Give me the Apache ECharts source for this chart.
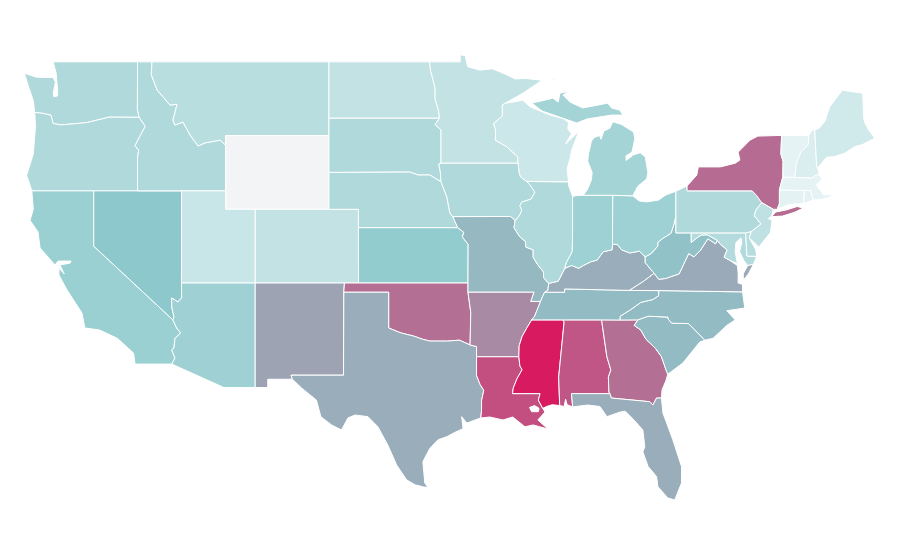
<!DOCTYPE html>
<html>
<head>
<meta charset="utf-8">
<style>html,body{margin:0;background:#fff}#main{width:900px;height:560px}</style>
<script src="https://cdn.jsdelivr.net/npm/echarts@6/dist/echarts.min.js"></script>
</head>
<body>
<div id="main"></div>
<script>
var stateNames = ['Alabama','Arizona','Arkansas','California','Colorado','Connecticut','Delaware','Florida','Georgia','Idaho','Illinois','Indiana','Iowa','Kansas','Kentucky','Louisiana','Maine','Maryland','Massachusetts','Michigan','Minnesota','Mississippi','Missouri','Montana','Nebraska','Nevada','New Hampshire','New Jersey','New Mexico','New York','North Carolina','North Dakota','Ohio','Oklahoma','Oregon','Pennsylvania','Rhode Island','South Carolina','South Dakota','Tennessee','Texas','Utah','Vermont','Virginia','Washington','West Virginia','Wisconsin'];
var stateValues = [83,41,68,43,23,6,30,58,76,33,33,42,33,47,58,85,16,31,5,38,23,100,55,28,33,50,11,24,61,77,54,23,42,76,33,33,6,54,33,54,58,20,5,59,33,52,18];
var colorStops = ['#f0f8f9','#8dc9cc','#d81b60'];

// shared borders, lon/lat
var columbia = [[-124.0,46.25],[-123.4,46.2],[-122.9,46.1],[-122.75,45.65],[-122.2,45.58],[-121.2,45.65],[-120.5,45.7],[-119.3,45.93],[-118.98,46.0],[-116.92,45.99]];
var snake = [[-116.92,45.99],[-116.5,45.5],[-116.85,45.0],[-117.2,44.45],[-116.95,44.2],[-117.03,43.8],[-117.03,42]];
var bitterroot = [[-116.05,49],[-116.1,48.3],[-115.7,47.47],[-114.83,46.65],[-114.35,46.7],[-114.63,45.84],[-114.5,45.57],[-113.95,45.73],[-113.47,45.03],[-112.93,44.43],[-112.46,44.6],[-111.44,44.75],[-111.05,44.48]];
var colorado = [[-114.04,36.2],[-114.29,35.97],[-114.71,36.19],[-114.71,35.7],[-114.56,35.16],[-114.63,35]];
var coloradoLow = [[-114.63,35],[-114.38,34.56],[-114.1,34.29],[-114.49,34],[-114.56,33.47],[-114.71,33.37],[-114.49,32.93],[-114.71,32.6]];
var redRiver = [[-100,34.56],[-99.2,34.3],[-98.3,34.12],[-97.7,33.95],[-97.2,33.85],[-96.6,33.85],[-96,33.85],[-95.2,33.9],[-94.48,33.64]];
var sabine = [[-94.04,31.99],[-93.8,31.5],[-93.55,31.18],[-93.7,30.6],[-93.7,30.1],[-93.75,29.68]];
var redMn = [[-97.23,49],[-97.15,48.5],[-96.85,47.6],[-96.85,47],[-96.6,46.3],[-96.56,45.94]];
var bigStone = [[-96.56,45.94],[-96.85,45.6],[-96.45,45.3],[-96.45,43.5]];
var bigSioux = [[-96.45,43.5],[-96.6,43.45],[-96.5,43.05],[-96.45,42.5]];
var moUpper = [[-96.45,42.5],[-96.05,41.66],[-95.85,40.8],[-95.65,40.6]];
var moLower = [[-95.65,40.6],[-95.31,40],[-94.9,39.75],[-95,39.5],[-94.61,39.1]];
var stCroix = [[-92.1,46.75],[-92.29,46.66],[-92.29,46.07],[-92.88,45.65],[-92.75,45.3],[-92.76,44.75],[-92,44.4],[-91.25,43.85],[-91.22,43.5]];
var missIaWi = [[-91.22,43.5],[-91.15,43],[-91.05,42.75],[-90.64,42.51]];
var missIaIl = [[-90.64,42.51],[-90.42,42.33],[-90.08,41.93],[-90.17,41.8],[-90.35,41.55],[-90.97,41.39],[-91.1,41.2],[-90.97,40.96],[-91.1,40.7],[-91.42,40.38]];
var missMoIl = [[-91.42,40.38],[-91.5,40],[-91.1,39.5],[-90.72,39.25],[-90.7,38.95],[-90.2,38.8],[-90.2,38.4],[-89.9,38],[-89.5,37.6],[-89.5,37.3],[-89.15,36.98]];
var missKy = [[-89.15,36.98],[-89.2,36.6],[-89.42,36.5]];
var missTn = [[-89.42,36.5],[-89.6,36.2],[-89.7,36]];
var missTnAr = [[-89.7,36],[-89.9,35.6],[-90.1,35.2],[-90.3,35]];
var missMsAr = [[-90.3,35],[-90.6,34.6],[-90.95,34.1],[-91.15,33.6],[-91.17,33]];
var missMsLa = [[-91.17,33],[-91.1,32.5],[-90.95,32.3],[-91.3,31.8],[-91.55,31.3],[-91.6,31]];
var pearl = [[-89.73,31],[-89.85,30.65],[-89.55,30.2]];
var ohioIl = [[-89.15,36.98],[-88.5,37.1],[-88.05,37.8]];
var ohioIn = [[-88.05,37.8],[-87.6,37.95],[-87.1,37.8],[-86.8,37.95],[-86.3,38.15],[-85.85,38.25],[-85.45,38.7],[-84.85,38.8],[-84.82,39.1]];
var ohioOh = [[-84.82,39.1],[-84.5,39.1],[-84.2,38.8],[-83.65,38.63],[-83,38.73],[-82.6,38.42]];
var ohioWv = [[-82.6,38.42],[-82.2,38.6],[-81.75,39],[-81.75,39.2],[-81.45,39.4],[-80.85,39.7],[-80.65,40.2],[-80.52,40.64]];
var wabash = [[-88.05,37.8],[-87.95,38.1],[-87.55,38.7],[-87.53,39.35],[-87.53,41.7]];
var kyWv = [[-82.6,38.42],[-82.6,38.1],[-82,37.53]];
var kyVa = [[-82,37.53],[-82.7,37.1],[-83.68,36.6]];
var kyTn = [[-89.42,36.5],[-88.07,36.5],[-88.07,36.68],[-83.68,36.6]];
var tnNc = [[-81.68,36.59],[-81.7,36.3],[-82.1,36.1],[-82.9,35.95],[-83.6,35.55],[-84.3,35.2],[-84.32,34.99]];
var gaSc = [[-83.1,35],[-83.35,34.7],[-82.9,34.45],[-82.55,33.95],[-81.9,33.45],[-81.5,33],[-81.15,32.2],[-81.07,32.05]];
var scNc = [[-83.1,35],[-82.4,35.2],[-81.05,35.15],[-81.05,35.05],[-80.8,34.82],[-79.67,34.8],[-78.55,33.9]];
var gaAl = [[-85.56,35],[-85.2,33],[-84.93,32.28],[-85.1,31.9],[-85.06,31.09],[-85,31]];
var gaFl = [[-85,31],[-84.9,30.76],[-82.28,30.56],[-82.08,30.38],[-81.83,30.76],[-81.5,30.76]];
var msAl = [[-88.2,35],[-88.1,34.9],[-88.47,31.9],[-88.4,30.35]];
var wiMi = [[-87.6,45.1],[-87.85,45.35],[-87.8,45.7],[-88.1,45.9],[-89.1,46.13],[-90.42,46.56]];
var paNj = [[-74.7,41.36],[-75.1,40.95],[-75.2,40.65],[-74.75,40.2],[-75.4,39.8]];
var nyPa = [[-75.35,42],[-75.05,41.75],[-74.7,41.36]];
var wvVa = [[-77.72,39.32],[-77.83,39.13],[-78.35,39.4],[-78.87,38.76],[-79.3,38.42],[-79.65,38.6],[-80.3,37.5],[-81.2,37.25],[-81.68,37.2],[-82,37.53]];
var mdWv = [[-77.72,39.32],[-78.4,39.62],[-78.8,39.6],[-79.1,39.45],[-79.48,39.2],[-79.48,39.72]];
var potomac = [[-77.72,39.32],[-77.5,39.1],[-77.05,38.8],[-77.25,38.4],[-76.95,38.27]];
var vtNh = [[-71.5,45.01],[-71.55,44.5],[-72.05,44.1],[-72.35,43.5],[-72.46,42.73]];
var nyVt = [[-73.35,45.01],[-73.4,44],[-73.25,43.6],[-73.27,42.75]];

function rev(a) { return a.slice().reverse(); }
function join() { return [].concat.apply([], arguments); }

// state outlines, each state is a list of polygons, each polygon a list of rings
var stateShapes = {
  'Washington': [[join([[-122.76,49],[-117.03,49],[-117.04,46.42]], rev(columbia), [[-124.1,46.9],[-124.4,47.6],[-124.7,48.38],[-123.9,48.17],[-123.2,48.15],[-122.75,48.15],[-122.6,47.9],[-122.75,47.3],[-122.7,47.1],[-122.45,47.15],[-122.45,47.5],[-122.5,47.9],[-122.55,48.4]])]],
  'Oregon': [[join([[-124.2,42],[-124.55,42.85],[-124.1,44],[-123.95,45.5]], columbia, snake, [[-120,42]])]],
  'California': [[join([[-124.2,42],[-120,42],[-120,39]], coloradoLow, [[-117.2,32.6],[-117.3,33.2],[-118.4,34],[-119.6,34.45],[-120.6,34.56],[-120.8,35.37],[-121.81,36.62],[-122.36,37.43],[-122.36,37.81],[-122,37.49],[-122.29,37.98],[-121.6,38.08],[-121.54,38.19],[-122.42,38.19],[-122.63,37.98],[-123.64,38.9],[-123.78,39.77],[-124.32,40.4],[-124.1,41]])],
    [[[-119.9,33.97],[-119.6,34],[-119.75,33.93]]], [[[-118.55,33.43],[-118.35,33.38],[-118.5,33.35]]]],
  'Nevada': [[join([[-120,42],[-114.04,42],[-114.05,37]], colorado, [[-120,39]])]],
  'Idaho': [[join([[-117.03,49]], bitterroot, [[-111.05,42]], rev(snake), [[-117.04,46.42]])]],
  'Montana': [[join(bitterroot, [[-111.05,45],[-104.05,45],[-104.05,49]])]],
  'Wyoming': [[[[-111.05,45],[-104.05,45],[-104.05,41],[-111.05,41]]]],
  'Utah': [[[[-114.04,42],[-111.05,42],[-111.05,41],[-109.05,41],[-109.05,37],[-114.05,37]]]],
  'Colorado': [[[[-109.05,41],[-102.05,41],[-102.05,40],[-102.04,37],[-103,37],[-109.05,37]]]],
  'Arizona': [[join([[-114.05,37],[-109.05,37],[-109.05,31.33],[-111.17,31.33]], rev(coloradoLow), rev(colorado))]],
  'New Mexico': [[[[-109.05,37],[-103,37],[-103.04,36.5],[-103.06,32],[-106.62,32],[-106.53,31.78],[-108.2,31.78],[-108.2,31.33],[-109.05,31.33]]]],
  'North Dakota': [[join([[-104.05,49]], redMn, [[-104.05,45.94]])]],
  'South Dakota': [[join([[-104.05,45.94]], bigStone, bigSioux, [[-96.66,42.59],[-97.2,42.86],[-98,42.86],[-98.56,43.02],[-104.05,43]])]],
  'Nebraska': [[join([[-104.05,43],[-98.56,43.02],[-98,42.86],[-97.2,42.86],[-96.66,42.59]], moUpper, [[-95.31,40],[-102.05,40],[-102.05,41],[-104.05,41]])]],
  'Kansas': [[join([[-102.05,40]], moLower.slice(1), [[-94.62,37],[-102.04,37]])]],
  'Oklahoma': [[join([[-103,37],[-94.62,37],[-94.62,36.5],[-94.43,35.4]], rev(redRiver), [[-100,36.5],[-103.04,36.5]])]],
  'Texas': [[join([[-103.04,36.5],[-100,36.5]], redRiver, [[-94.04,33.55]], sabine, [[-94.7,29.4],[-95.05,29.75],[-94.95,29.1],[-95.5,28.9],[-96.07,28.66],[-96.66,28.49],[-97.2,28.04],[-97.68,27.31],[-97.55,26.15],[-97.33,25.9],[-97.7,25.95],[-98.2,26.05],[-98.78,26.32],[-99.46,27.13],[-100.05,28.2],[-100.73,29.2],[-101.4,29.75],[-102.28,29.84],[-102.76,29.68],[-103.2,29.03],[-103.87,29.3],[-104.6,29.75],[-104.9,30.65],[-105.9,31.3],[-106.53,31.78],[-106.62,32],[-103.06,32]])]],
  'Minnesota': [[join([[-97.23,49],[-95.15,49],[-95.15,49.38],[-94.8,49.33],[-94.65,48.74],[-93.8,48.55],[-92.95,48.62],[-92,48.3],[-91.4,48.07],[-90.75,48.1],[-89.6,48],[-90.9,47.3]], stCroix, rev(bigStone), rev(redMn))]],
  'Iowa': [[join(rev(bigSioux), missIaWi, missIaIl, [[-91.73,40.61]], rev(moUpper))]],
  'Missouri': [[join(moLower.slice(0,1), [[-91.73,40.61]], missMoIl, missKy, missTn, [[-90.37,36],[-90.15,36.5],[-94.62,36.5],[-94.62,37]], rev(moLower))]],
  'Arkansas': [[join([[-94.62,36.5],[-90.15,36.5],[-90.37,36]], missTnAr, missMsAr, [[-94.04,33],[-94.04,33.55],[-94.48,33.64],[-94.43,35.4]])]],
  'Louisiana': [[join([[-94.04,33],[-91.17,33]], missMsLa, pearl, [[-89.4,30],[-89.88,29.57],[-89.2,29.08],[-90.2,29.3],[-90.76,29.2],[-91.58,29.73],[-92.25,29.57],[-93.14,29.73]], rev(sabine)), [[-90.45,30.25],[-90.3,30.02],[-89.85,30.02],[-89.8,30.2],[-90.1,30.35]]]],
  'Mississippi': [[join(missMsAr.slice(0,1), msAl, [[-88.9,30.4],[-89.3,30.3]], rev(pearl), [[-91.6,31]], rev(missMsLa), rev(missMsAr))]],
  'Alabama': [[join(msAl, [[-88.1,30.3],[-88,30.7],[-87.9,30.4],[-87.52,30.28],[-87.6,31]], rev(gaAl))]],
  'Georgia': [[join(gaAl, gaFl, [[-81.46,31.2],[-81.2,31.7]], rev(gaSc), [[-85.56,35]])]],
  'Florida': [[join([[-87.52,30.28],[-86.5,30.38],[-85.67,30.3],[-85.2,29.75],[-84.3,30],[-83.95,30.05],[-83.4,29.6],[-82.76,29.03],[-82.63,28.12],[-82.76,27.85],[-82.4,27.04],[-81.83,26.5],[-81.74,25.95],[-81.07,25.34],[-80.6,25.23],[-80.14,26.15],[-80.14,27.04],[-80.73,28.5],[-81.4,29.95]], rev(gaFl), [[-87.6,31]])]],
  'South Carolina': [[join(scNc, [[-78.9,33.8],[-80.05,32.66]], rev(gaSc))]],
  'North Carolina': [[join([[-76,36.52]], [[-81.68,36.59]], tnNc, [[-83.1,35]], scNc, [[-78,34],[-77.07,34.7],[-76.5,35],[-77.07,35.5],[-75.85,35.64]])]],
  'Tennessee': [[join(kyTn, [[-81.68,36.59]], tnNc, [[-85.56,35],[-88.2,35],[-90.3,35]], rev(missTnAr), rev(missTn))]],
  'Kentucky': [[join(ohioIl, ohioIn, ohioOh, kyWv, kyVa, rev(kyTn), rev(missKy))]],
  'Virginia': [[join([[-76,36.52],[-81.68,36.59],[-83.68,36.6]], rev(kyVa), rev(wvVa), potomac, [[-76.35,37.95],[-76.3,37.55],[-76.3,37],[-76,36.92]])], [[[-75.65,37.95],[-75.25,38.03],[-75.6,37.5],[-75.95,37.15],[-75.95,37.5]]]],
  'West Virginia': [[join([[-80.52,40.64],[-80.52,39.72]], rev(mdWv), wvVa, rev(kyWv), ohioWv)]],
  'Maryland': [[join(mdWv.slice(-1), [[-75.79,39.72],[-75.7,38.46],[-75.05,38.45],[-75.25,38.03],[-75.65,37.95],[-75.9,38.2],[-76.2,38.7],[-76.05,39.2],[-76.1,39.45],[-76.45,39.2],[-76.5,38.7],[-76.35,38.05]], rev(potomac), mdWv)]],
  'Delaware': [[[[-75.79,39.72],[-75.4,39.8],[-75.55,39.45],[-75.1,38.8],[-75.05,38.45],[-75.7,38.46]]]],
  'Illinois': [[join([[-87.8,42.49],[-90.64,42.51]], missIaIl, missMoIl, ohioIl, wabash, [[-87.8,42.3]])]],
  'Indiana': [[join(rev(wabash), ohioIn, [[-84.8,41.76],[-86.8,41.76],[-87.2,41.75]])]],
  'Ohio': [[join([[-84.8,41.76],[-83.45,41.73],[-83,41.45],[-82.5,41.4],[-81.7,41.5],[-81.2,41.78],[-80.52,41.98],[-80.52,40.64]], rev(ohioWv), rev(ohioOh))]],
  'Michigan': [[[[-86.8,41.76],[-86.5,42.1],[-86.25,42.6],[-86.2,43],[-86.5,43.6],[-86.45,44],[-86.25,44.7],[-86.05,44.9],[-85.7,45],[-85.6,44.8],[-85.4,45.25],[-85,45.4],[-84.8,45.75],[-84.2,45.6],[-83.4,45.2],[-83.3,44.85],[-83.5,44.1],[-83.9,43.9],[-83.9,43.65],[-83.4,43.95],[-82.95,44.07],[-82.6,43.85],[-82.42,43],[-82.5,42.65],[-83.1,42.25],[-83.45,41.73],[-84.8,41.76]]],
    [join(rev(wiMi), [[-90.29,46.76],[-88.86,47.03],[-88.5,46.82],[-88.39,47.3],[-87.78,47.41],[-88.18,47.2],[-87.71,46.82],[-86.83,46.5],[-85.14,46.76],[-84.87,46.49],[-84.32,46.38],[-84.12,46.11],[-84.87,46.11],[-86.55,45.9],[-87.25,45.68]])],
    [[[-89.05,47.95],[-88.45,48.17],[-88.9,48.05]]]],
  'Wisconsin': [[join(stCroix, missIaWi, [[-87.8,42.49],[-87.9,43.2],[-87.7,43.75],[-87.55,44.3],[-87.3,44.8],[-87.1,45.25],[-87.6,44.85],[-88,44.55]], wiMi, [[-90.9,46.92],[-91.2,46.87]])]],
  'Pennsylvania': [[join([[-80.52,41.98],[-79.76,42.27],[-79.76,42]], nyPa, paNj, [[-75.79,39.72],[-80.52,39.72]])]],
  'New York': [[join([[-79.76,42.27],[-79.1,42.86],[-79,43.3],[-77.5,43.3],[-76.5,43.5],[-76.18,43.67],[-76.3,44.1],[-75.5,44.75],[-74.96,44.97]], nyVt, [[-73.5,42.05],[-73.5,41.3],[-73.65,41],[-73.92,41]], [[-74.7,41.36]], rev(nyPa), [[-79.76,42]])], [[[-74.03,40.6],[-73.75,40.85],[-73,40.97],[-72.3,41.15],[-71.87,41.07],[-72.5,40.83],[-73.3,40.63]]]],
  'New Jersey': [[join(paNj.slice(0,1), [[-73.92,41],[-74.03,40.62],[-74.25,40.5],[-74,40.4],[-74.1,39.75],[-74.9,38.95],[-75.55,39.45]], rev(paNj))]],
  'Connecticut': [[[[-73.5,42.05],[-71.8,42.02],[-71.85,41.32],[-72.9,41.25],[-73.65,41],[-73.5,41.3]]]],
  'Rhode Island': [[[[-71.8,42.02],[-71.38,42.02],[-71.2,41.5],[-71.85,41.32]]]],
  'Massachusetts': [[[[-73.27,42.75],[-72.46,42.73],[-71.3,42.7],[-71,42.87],[-70.8,42.87],[-70.6,42.65],[-71,42.3],[-70.7,42],[-70.5,41.78],[-70,41.8],[-70.1,42.05],[-69.95,41.7],[-70.6,41.55],[-71.2,41.5],[-71.38,42.02],[-71.8,42.02],[-73.5,42.05]]]],
  'Vermont': [[join(nyVt, rev(vtNh))]],
  'New Hampshire': [[join(vtNh, [[-71.3,42.7],[-71,42.87],[-70.8,42.87],[-70.9,43.24],[-70.98,43.4],[-71.1,45.3],[-71.3,45.3]])]],
  'Maine': [[[[-71.1,45.3],[-70.8,45.4],[-70.4,45.8],[-70.1,46.54],[-69.23,47.47],[-69,47.43],[-67.85,47.3],[-67.78,45.9],[-67.7,45.68],[-67.45,45.3],[-67.03,44.86],[-67.9,44.5],[-68.4,44.4],[-69.05,44.05],[-69.8,43.85],[-70.3,43.83],[-70.9,43.24],[-70.98,43.4]]]]
};

var features = [];
for (var name in stateShapes) {
  features.push({
    type: 'Feature',
    properties: {name: name},
    geometry: {type: 'MultiPolygon', coordinates: stateShapes[name]}
  });
}
echarts.registerMap('USA', {type: 'FeatureCollection', features: features});

var seriesData = stateNames.map(function (n, i) {
  return {name: n, value: stateValues[i]};
});
seriesData.push({name: 'Wyoming', value: NaN});

var chart = echarts.init(document.getElementById('main'));
chart.setOption({
  animation: false,
  visualMap: {
    show: false,
    min: 0,
    max: 100,
    inRange: {color: colorStops}
  },
  series: [{
    type: 'map',
    map: 'USA',
    roam: false,
    silent: true,
    aspectScale: 0.8,
    boundingCoords: [[-124.73, 49.38], [-66.95, 25.1]],
    layoutCenter: [450, 278.6],
    layoutSize: 852,
    label: {show: false},
    itemStyle: {areaColor: '#f3f4f6', borderColor: '#fff', borderWidth: 1},
    data: seriesData
  }]
});
</script>
</body>
</html>
